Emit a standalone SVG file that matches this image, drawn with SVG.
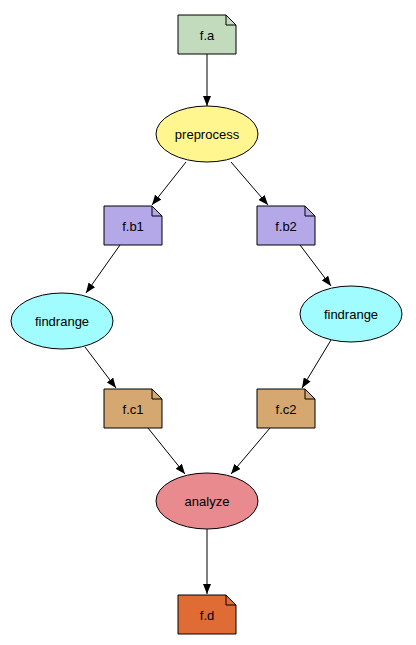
<svg xmlns="http://www.w3.org/2000/svg" width="416" height="645" viewBox="0 0 416 645">
<defs>
<marker id="arr" markerWidth="10" markerHeight="8" refX="10" refY="4" orient="auto" markerUnits="userSpaceOnUse">
<path d="M0,0 L10,4 L0,8 Z" fill="#000"/>
</marker>
</defs>
<style>
.note{stroke:#000;stroke-width:1}
.fold{fill:none;stroke:#000;stroke-width:1}
.ell{stroke:#000;stroke-width:1}
text{font-family:"Liberation Sans",Arial,sans-serif;font-size:13px;text-anchor:middle;dominant-baseline:central;fill:#000}
.edge{stroke:#000;stroke-width:1;fill:none;marker-end:url(#arr)}
</style>
<rect width="416" height="645" fill="#fff"/>
<g id="connectors">
<line class="edge" x1="207" y1="54" x2="207" y2="106"/>
<line class="edge" x1="186" y1="162" x2="152" y2="205"/>
<line class="edge" x1="231" y1="162" x2="268" y2="205"/>
<line class="edge" x1="120" y1="245" x2="86" y2="293"/>
<line class="edge" x1="300" y1="245" x2="331" y2="286"/>
<line class="edge" x1="85" y1="347" x2="116" y2="388"/>
<line class="edge" x1="331" y1="340" x2="302" y2="388"/>
<line class="edge" x1="148" y1="428" x2="185" y2="474"/>
<line class="edge" x1="270" y1="428" x2="231" y2="474"/>
<line class="edge" x1="207" y1="529" x2="207" y2="594"/>
</g>
<g id="f.a">
<path class="note" d="M178,15 H226 L236,25 V54 H178 Z" fill="#c1dbbc"/>
<path class="fold" d="M226,15 V25 H236"/>
<text x="207" y="35">f.a</text>
</g>
<g id="preprocess">
<ellipse class="ell" cx="207" cy="134" rx="51" ry="28" fill="#fff68f"/>
<text x="207" y="134">preprocess</text>
</g>
<g id="f.b1">
<path class="note" d="M104,206 H152 L162,216 V245 H104 Z" fill="#b4a8e8"/>
<path class="fold" d="M152,206 V216 H162"/>
<text x="133" y="226">f.b1</text>
</g>
<g id="f.b2">
<path class="note" d="M257,206 H305 L315,216 V245 H257 Z" fill="#b4a8e8"/>
<path class="fold" d="M305,206 V216 H315"/>
<text x="286" y="226">f.b2</text>
</g>
<g id="findrange1">
<ellipse class="ell" cx="62" cy="321" rx="51" ry="28" fill="#a0fcff"/>
<text x="62" y="321">findrange</text>
</g>
<g id="findrange2">
<ellipse class="ell" cx="351" cy="314" rx="51" ry="28" fill="#a0fcff"/>
<text x="351" y="314">findrange</text>
</g>
<g id="f.c1">
<path class="note" d="M104,389 H152 L162,399 V428 H104 Z" fill="#d4a870"/>
<path class="fold" d="M152,389 V399 H162"/>
<text x="133" y="409">f.c1</text>
</g>
<g id="f.c2">
<path class="note" d="M257,389 H305 L315,399 V428 H257 Z" fill="#d4a870"/>
<path class="fold" d="M305,389 V399 H315"/>
<text x="286" y="409">f.c2</text>
</g>
<g id="analyze">
<ellipse class="ell" cx="207" cy="501" rx="51" ry="28" fill="#e98a8f"/>
<text x="207" y="501">analyze</text>
</g>
<g id="f.d">
<path class="note" d="M178,595 H226 L236,605 V634 H178 Z" fill="#e06c35"/>
<path class="fold" d="M226,595 V605 H236"/>
<text x="207" y="615">f.d</text>
</g>
</svg>
